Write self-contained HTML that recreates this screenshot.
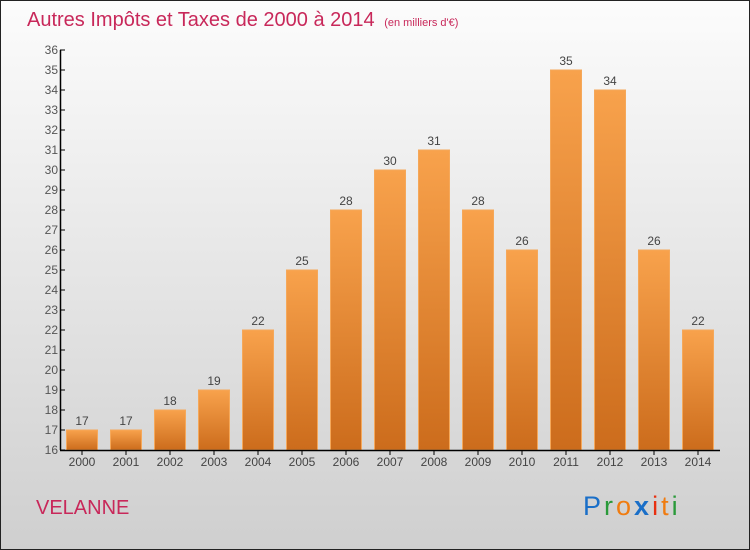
<!DOCTYPE html>
<html><head><meta charset="utf-8"><style>
body{margin:0;width:750px;height:550px;overflow:hidden}
svg{display:block;font-family:"Liberation Sans",sans-serif}
</style></head><body>
<svg id="c" width="750" height="550" xmlns="http://www.w3.org/2000/svg">
<defs>
<linearGradient id="bg" x1="0" y1="0" x2="0" y2="1"><stop offset="0" stop-color="#fcfcfc"/><stop offset="1" stop-color="#cfcfcf"/></linearGradient>
<linearGradient id="bar" x1="0" y1="0" x2="0" y2="1"><stop offset="0" stop-color="#f8a24c"/><stop offset="1" stop-color="#cc6c1c"/></linearGradient>
</defs>
<rect x="0.5" y="0.5" width="749" height="549" fill="url(#bg)" stroke="#222"/>
<text x="27" y="26" font-size="20" fill="#c8285a">Autres Impôts et Taxes de 2000 à 2014 <tspan font-size="11" dx="4">(en milliers d'€)</tspan></text>
<text x="36" y="514" font-size="20" fill="#c8285a">VELANNE</text>
<text x="583" y="515" font-size="27" letter-spacing="3"><tspan fill="#1a6fc8">P</tspan><tspan fill="#2a9a3a">r</tspan><tspan fill="#f07c10">o</tspan><tspan fill="#1a6fc8" font-weight="bold">x</tspan><tspan fill="#e83010">i</tspan><tspan fill="#f07c10">t</tspan><tspan fill="#2a9a3a">i</tspan></text>
<g id="plot"></g>
</svg>
<script>
const years=["2000","2001","2002","2003","2004","2005","2006","2007","2008","2009","2010","2011","2012","2013","2014"];
const values=[17,17,18,19,22,25,28,30,31,28,26,35,34,26,22];
const yTicks=[16,17,18,19,20,21,22,23,24,25,26,27,28,29,30,31,32,33,34,35,36];
const NS="http://www.w3.org/2000/svg";
const g=document.getElementById('plot');
const y=v=>450-(v-16)*20;
const x=i=>82+i*44;
function el(t,a){const e=document.createElementNS(NS,t);for(const k in a)e.setAttribute(k,a[k]);g.appendChild(e);return e;}
yTicks.forEach(t=>{
const l=el('line',{x1:60,x2:65,y1:y(t),y2:y(t),stroke:'#000'});


const tx=el('text',{x:58,y:y(t)+4,'font-size':12,fill:'#555','text-anchor':'end'});tx.textContent=t;


});
values.forEach((v,i)=>{
const r=el('rect',{x:x(i)-15.5,y:y(v),width:31,height:450-y(v),fill:'url(#bar)',stroke:'#f5a85a','stroke-width':1});


const vt=el('text',{x:x(i),y:y(v)-5,'font-size':12,fill:'#444','text-anchor':'middle'});vt.textContent=v;


const tk=el('line',{x1:x(i),x2:x(i),y1:450,y2:455,stroke:'#000'});


const xt=el('text',{x:x(i),y:466,'font-size':12,fill:'#444','text-anchor':'middle'});xt.textContent=years[i];


});
const ya=el('line',{x1:60.5,x2:60.5,y1:y(36),y2:450,stroke:'#000','stroke-width':1.5});


const xa=el('line',{x1:60,x2:720,y1:450.5,y2:450.5,stroke:'#000','stroke-width':1.5});


</script>
</body></html>
